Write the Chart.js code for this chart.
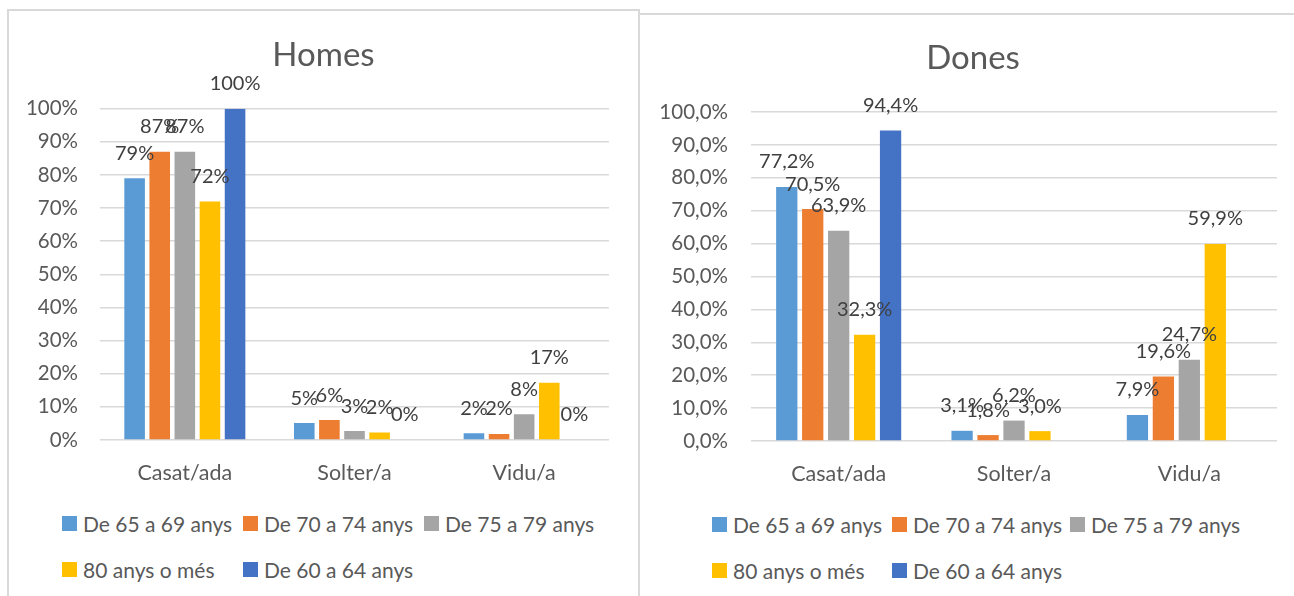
<!DOCTYPE html>
<html>
<head>
<meta charset="utf-8">
<script src="https://cdn.jsdelivr.net/npm/chart.js@4.4.1/dist/chart.umd.min.js"></script>
<style>
  html, body { margin: 0; padding: 0; background: #fff; width: 1294px; height: 596px; overflow: hidden; font-family: Lato, sans-serif; }
  .panel { position: absolute; border: 2px solid #d9d9d9; background: #fff; box-sizing: border-box; }
  #homesPanel { left: 7px; top: 9px; width: 633px; height: 640px; }
  #donesPanel { left: 638px; top: 13px; width: 672px; height: 640px; }
  .panel canvas { position: absolute; left: 0; top: 0; }
  .legend { position: absolute; display: grid; row-gap: 25px; color: #595959; font-size: 21px; line-height: 21px; }
  .legend .item { display: flex; align-items: center; white-space: nowrap; }
  .legend .box { width: 15px; height: 15px; margin-right: 6px; flex: none; }
</style>
</head>
<body>
<div class="panel" id="homesPanel">
  <canvas id="homesChart"></canvas>
  <div class="legend" id="homesLegend" style="left:53px; top:502px; grid-template-columns: 181px 181px 181px;"></div>
</div>
<div class="panel" id="donesPanel">
  <canvas id="donesChart"></canvas>
  <div class="legend" id="donesLegend" style="left:72px; top:499px; grid-template-columns: 180px 178px 178px;"></div>
</div>
<script>
const categories = ['Casat/ada', 'Solter/a', 'Vidu/a'];
const seriesNames = ['De 65 a 69 anys', 'De 70 a 74 anys', 'De 75 a 79 anys', '80 anys o més', 'De 60 a 64 anys'];
const seriesColors = ['#5B9BD5', '#ED7D31', '#A5A5A5', '#FFC000', '#4472C4'];
const yTicks = [0, 10, 20, 30, 40, 50, 60, 70, 80, 90, 100];

// Homes (%)
const homes65 = [79, 5.1, 2.0];
const homes70 = [87, 6.0, 1.8];
const homes75 = [87, 2.7, 7.8];
const homes80 = [72, 2.3, 17.3];
const homes60 = [100, 0, 0];

// Dones (%)
const dones65 = [77.2, 3.1, 7.9];
const dones70 = [70.5, 1.8, 19.6];
const dones75 = [63.9, 6.2, 24.7];
const dones80 = [32.3, 3.0, 59.9];
const dones60 = [94.4, null, null];

const fmtInt = v => Math.round(v) + '%';
const fmtDec = v => v.toFixed(1).replace('.', ',') + '%';

// labels above each bar
const valueLabels = {
  id: 'valueLabels',
  afterDatasetsDraw(chart, args, opts) {
    const ctx = chart.ctx;
    ctx.save();
    ctx.font = '20px Lato';
    ctx.fillStyle = '#404040';
    ctx.textAlign = 'center';
    ctx.textBaseline = 'middle';
    chart.data.datasets.forEach((ds, i) => {
      chart.getDatasetMeta(i).data.forEach((bar, j) => {
        const v = ds.data[j];
        if (v === null || v === undefined) return;
        ctx.fillText(opts.format(v), bar.x, bar.y - 25);
      });
    });
    ctx.restore();
  }
};

function makeChart(id, title, series, fmt, dims) {
  const canvas = document.getElementById(id);
  canvas.width = dims.w;
  canvas.height = dims.h;
  canvas.style.width = dims.w + 'px';
  canvas.style.height = dims.h + 'px';
  return new Chart(canvas, {
    type: 'bar',
    data: {
      labels: categories,
      datasets: series.map((d, i) => ({
        label: seriesNames[i],
        data: d,
        backgroundColor: seriesColors[i],
        categoryPercentage: 0.74,
        barPercentage: 0.82
      }))
    },
    options: {
      responsive: false,
      animation: false,
      layout: { padding: 0 },
      plugins: {
        legend: { display: false },
        tooltip: { enabled: false },
        title: {
          display: true,
          text: title,
          color: '#595959',
          font: { family: 'Lato', size: 33, weight: 'normal' },
          padding: { top: dims.titleTop, bottom: dims.titleBottom }
        },
        valueLabels: { format: fmt }
      },
      scales: {
        x: {
          grid: { display: false },
          border: { display: false },
          ticks: { color: '#595959', font: { family: 'Lato', size: 21.5 }, padding: 12 },
          afterFit: s => { s.height = 60; }
        },
        y: {
          min: 0,
          max: 100,
          afterBuildTicks: s => { s.ticks = yTicks.map(v => ({ value: v })); },
          grid: { color: '#d9d9d9', lineWidth: 1.5, drawTicks: false },
          border: { display: false },
          ticks: { color: '#595959', font: { family: 'Lato', size: 20.5 }, padding: dims.tickPad, callback: v => fmt(v) },
          afterFit: s => { s.width = dims.yw; }
        },
        // empty right margin, so the title stays centred on the whole panel
        spacer: {
          type: 'linear',
          position: 'right',
          grid: { display: false },
          border: { display: false },
          ticks: { display: false },
          afterFit: s => { s.width = dims.right; }
        }
      }
    },
    plugins: [valueLabels]
  });
}

function makeLegend(id) {
  const el = document.getElementById(id);
  seriesNames.forEach((name, i) => {
    const item = document.createElement('div');
    item.className = 'item';
    const box = document.createElement('span');
    box.className = 'box';
    box.style.background = seriesColors[i];
    const txt = document.createElement('span');
    txt.textContent = name;
    item.appendChild(box);
    item.appendChild(txt);
    el.appendChild(item);
  });
}

makeChart('homesChart', 'Homes', [homes65, homes70, homes75, homes80, homes60], fmtInt,
  { w: 629, h: 489, right: 29, yw: 91, tickPad: 22, titleTop: 24.2, titleBottom: 33.9 });
makeChart('donesChart', 'Dones', [dones65, dones70, dones75, dones80, dones60], fmtDec,
  { w: 666, h: 486, right: 29, yw: 111, tickPad: 23, titleTop: 23.2, titleBottom: 34.2 });
makeLegend('homesLegend');
makeLegend('donesLegend');
</script>
</body>
</html>
